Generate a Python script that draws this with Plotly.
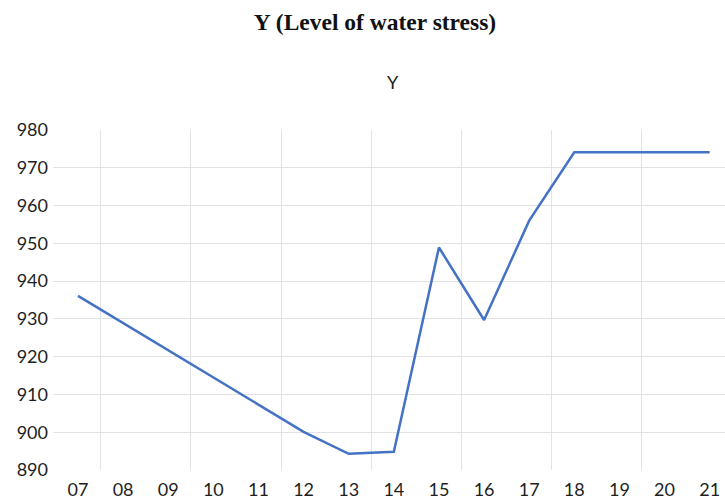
import plotly.graph_objects as go

years = ["07", "08", "09", "10", "11", "12", "13", "14", "15", "16", "17", "18", "19", "20", "21"]
values = [936.1, 928.9, 921.7, 914.5, 907.3, 900.1, 894.3, 894.8, 948.9, 929.7, 956.0, 974.1, 974.1, 974.1, 974.1]
y_ticks = [890, 900, 910, 920, 930, 940, 950, 960, 970, 980]

idx = list(range(len(years)))

L, R, T, B = 53, 0, 130, 30
W, H = 725, 500
pw = W - L - R
ph = H - T - B

fig = go.Figure()
fig.add_trace(go.Scatter(
    x=idx, y=values, mode="lines",
    line=dict(color="#4472C4", width=2.5),
    showlegend=False, hoverinfo="skip",
))

fig.update_layout(
    width=W, height=H,
    margin=dict(l=L, r=R, t=T, b=B, autoexpand=False),
    paper_bgcolor="white", plot_bgcolor="white",
    font=dict(family="Lato", size=18, color="#1e1e1e"),
    title=dict(text="<b>Y (Level of water stress)</b>", x=375 / W, xref="container",
               y=1 - 22 / H, yref="container", xanchor="center", yanchor="middle",
               font=dict(family="Liberation Serif", size=23.5, color="#111111")),
    annotations=[
        dict(text="Y", x=(393 - L) / pw, y=(H - B - 82) / ph, xref="paper", yref="paper",
             xanchor="center", yanchor="middle",
             showarrow=False, font=dict(family="Lato", size=18, color="#1e1e1e")),
    ],
)

fig.update_xaxes(
    range=[-0.554, 14.34], automargin=False,
    tickmode="array", tickvals=idx, ticktext=years,
    showgrid=False, zeroline=False, showline=False, ticks="",
    minor=dict(tickvals=[0.5, 2.5, 4.5, 6.5, 8.5, 10.5, 12.5], showgrid=True,
               gridcolor="#e3e3e3", gridwidth=1, ticks=""),
    tickfont=dict(family="Lato", size=18, color="#1e1e1e"),
    ticklabelstandoff=7,
)
fig.update_yaxes(
    range=[890, 980], automargin=False,
    tickmode="array", tickvals=y_ticks,
    showgrid=False, zeroline=False, showline=False, ticks="",
    minor=dict(tickvals=y_ticks[1:-1], showgrid=True, gridcolor="#e3e3e3", gridwidth=1, ticks=""),
    tickfont=dict(family="Lato", size=18, color="#1e1e1e"),
    ticklabelstandoff=4,
)

fig.write_html("out.html", config={"displayModeBar": False},
               post_script="document.body.style.margin='0';")
